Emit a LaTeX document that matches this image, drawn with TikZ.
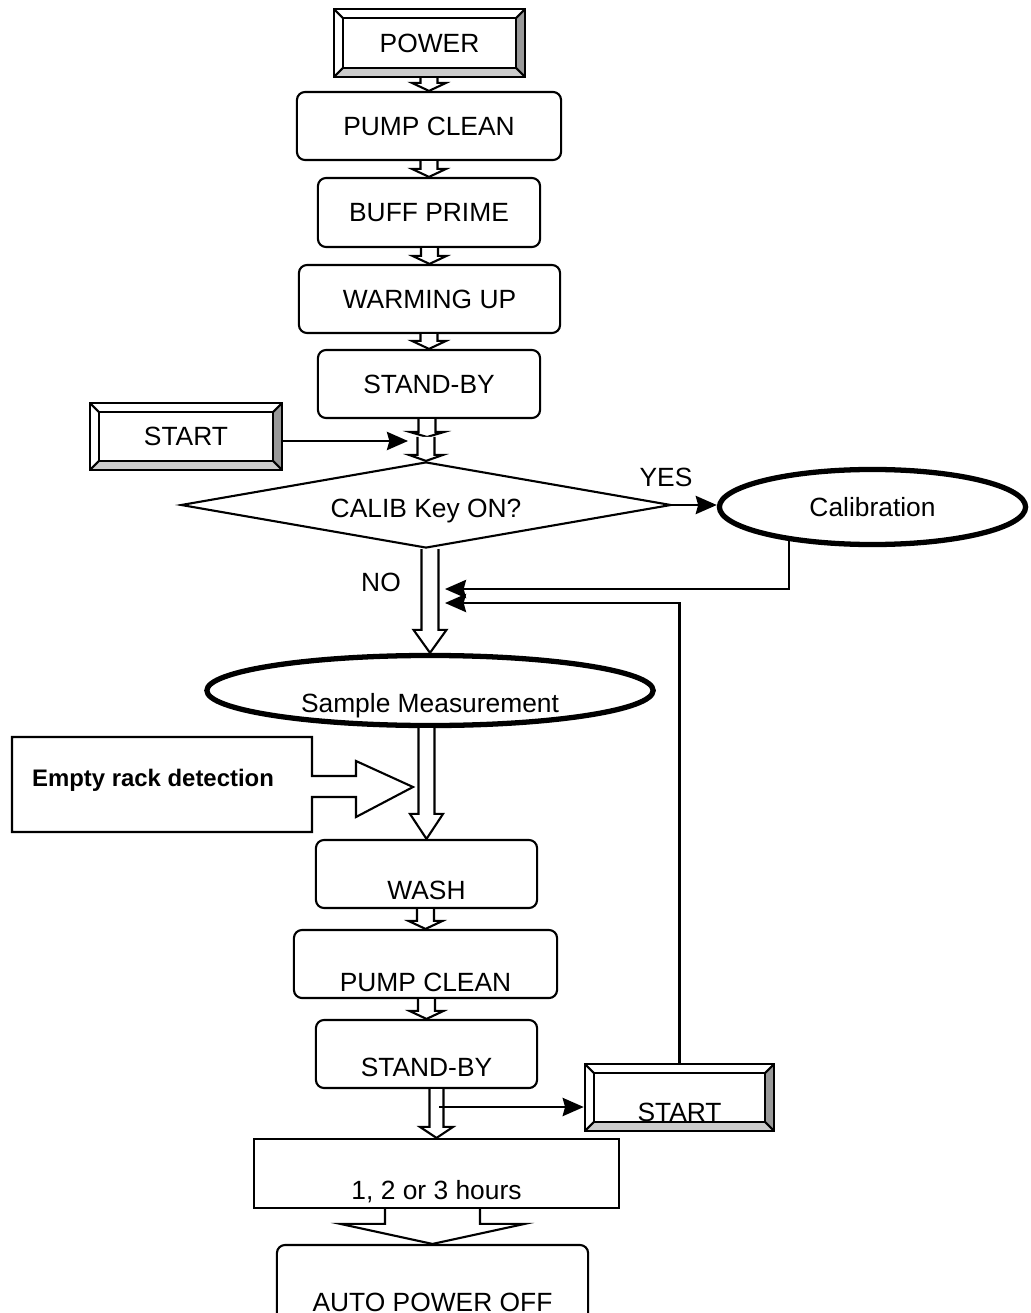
\documentclass[tikz,border=0pt]{standalone}
\usepackage{fontspec}
\setmainfont{Liberation Sans}
\usepackage{tikz}
\usetikzlibrary{calc,shapes.geometric,arrows.meta}

\newcommand{\bevw}{2.5pt}
% hollow flow arrow: from, to, shaft half width, head half width, head length
\newcommand{\blockarrow}[5]{%
  \draw[line width=0.6pt, fill=white, line join=miter]
    ($(#1 -| #2)+(-#3,0)$) -- ($(#2)+(-#3,-#5)$) -- ($(#2)+(-#4,-#5)$) -- (#2)
    -- ($(#2)+(#4,-#5)$) -- ($(#2)+(#3,-#5)$) -- ($(#1 -| #2)+(#3,0)$);
}

\tikzset{
  every node/.style={font=\fontsize{7.5}{9}\selectfont},
  stepbox/.style={draw, line width=0.6pt, rounded corners=2.3pt, inner sep=0pt, fill=white},
  lowtext/.style={text height=#1, text depth=0pt},
  oval/.style={draw, ellipse, line width=1.5pt, inner sep=0pt},
  link/.style={line width=0.6pt, -{Stealth[length=6pt,width=5.2pt,inset=0.7pt]}},
  button/.style={draw, line width=0.7pt, fill=white, inner sep=0pt,
    path picture={
      \path (path picture bounding box.south west) coordinate (bsw)
            (path picture bounding box.north east) coordinate (bne);
      \fill[gray!40] (bsw) -- (bsw -| bne) -- ++(-\bevw,\bevw) -- ($(bsw)+(\bevw,\bevw)$) -- cycle;
      \fill[gray!80] (bsw -| bne) -- (bne) -- ++(-\bevw,-\bevw) -- ($(bsw -| bne)+(-\bevw,\bevw)$) -- cycle;
      \draw[line width=0.6pt] ($(bsw)+(\bevw,\bevw)$) rectangle ($(bne)+(-\bevw,-\bevw)$);
      \draw[line width=0.6pt] (bsw) -- ++(\bevw,\bevw) (bne) -- ++(-\bevw,-\bevw)
        (bsw -| bne) -- ++(-\bevw,\bevw) (bsw |- bne) -- ++(\bevw,-\bevw);
    }},
}

\begin{document}
\begin{tikzpicture}[x=0.01cm, y=-0.01cm]
\useasboundingbox (0,0) rectangle (1030,1313);

% start-up sequence
\node[button, minimum width=1.91cm, minimum height=0.68cm] (power) at (429.5,43) {POWER};
\node[stepbox, minimum width=2.64cm, minimum height=0.68cm] (pclean) at (429,126) {PUMP CLEAN};
\node[stepbox, minimum width=2.22cm, minimum height=0.69cm] (prime) at (429,212.5) {BUFF PRIME};
\node[stepbox, minimum width=2.61cm, minimum height=0.68cm] (warm) at (429.5,299) {WARMING UP};
\node[stepbox, minimum width=2.22cm, minimum height=0.68cm] (stby) at (429,384) {STAND-BY};
\node[button, minimum width=1.92cm, minimum height=0.67cm] (startA) at (186,436.5) {START};
\coordinate (join) at (427,437);
\coordinate (startin) at (408,441);

\node[draw, diamond, line width=0.6pt, inner sep=0pt, aspect=5, lowtext=0.25cm,
  minimum width=4.9cm, minimum height=0.86cm] (calq) at (426,505) {CALIB Key ON?};
\node (yes) at (666,477) {YES};
\node (no) at (381,582) {NO};
\node[oval, minimum width=3.06cm, minimum height=0.75cm] (calib) at (872.5,507) {Calibration};
\coordinate (in1) at (445,589);
\coordinate (in2) at (445,603);

% measuring
\node[oval, minimum width=4.46cm, minimum height=0.70cm, lowtext=0.44cm] (samp) at (430,690.5) {Sample Measurement};
\node[font=\fontsize{6.8}{8}\selectfont\bfseries] (rack) at (153,780) {Empty rack detection};
\draw[line width=0.6pt, line join=miter] (312,776) -- (356,776) -- (356,761) -- (413,787) -- (356,817)
  -- (356,797) -- (312,797) -- (312,832) -- (12,832) -- (12,737) -- (312,737) -- cycle;

\node[stepbox, minimum width=2.21cm, minimum height=0.68cm, lowtext=0.51cm] (wash) at (426.5,874) {WASH};
\node[stepbox, minimum width=2.63cm, minimum height=0.68cm, lowtext=0.55cm] (pcleanB) at (425.5,964) {PUMP CLEAN};
\node[stepbox, minimum width=2.21cm, minimum height=0.68cm, lowtext=0.45cm] (stbyB) at (426.5,1054) {STAND-BY};
\node[button, minimum width=1.89cm, minimum height=0.67cm, lowtext=0.47cm] (startB) at (679.5,1097.5) {START};
\coordinate (out2) at (439,1107);

\node[draw, line width=0.6pt, inner sep=0pt, minimum width=3.65cm, minimum height=0.69cm,
  lowtext=0.52cm] (hours) at (436.5,1173.5) {1, 2 or 3 hours};
\node[stepbox, minimum width=3.11cm, minimum height=0.85cm, lowtext=0.48cm] (off) at (432.5,1287.5) {AUTO POWER OFF};

% flow
\blockarrow{power.south}{pclean.north}{8.5}{17}{8}
\blockarrow{pclean.south}{prime.north}{8.5}{17}{8}
\blockarrow{prime.south}{warm.north}{8.5}{17}{8}
\blockarrow{warm.south}{stby.north}{8.5}{17}{8}
\blockarrow{stby.south}{join}{8.5}{17}{5}
\blockarrow{join}{calq.north}{8.5}{17}{6}
\blockarrow{calq.south}{samp.north}{8.5}{16.5}{23}
\blockarrow{samp.south}{wash.north}{8}{16.5}{25}
\blockarrow{wash.south}{pcleanB.north}{8.5}{17}{8}
\blockarrow{pcleanB.south}{stbyB.north}{8.5}{17}{8}
\blockarrow{stbyB.south}{hours.north}{7}{16.5}{11}
\blockarrow{hours.south}{off.north}{47.5}{92}{20}

\draw[link] (startA.east |- startin) -- (startin);
\draw[link] (calq.east) -- (calq.east -| calib.west);
\draw[link] (calib.202) |- (in1);
\draw[link] (startB.north) |- (in2);
\draw[link] (out2) -- (out2 -| startB.west);
\end{tikzpicture}
\end{document}
